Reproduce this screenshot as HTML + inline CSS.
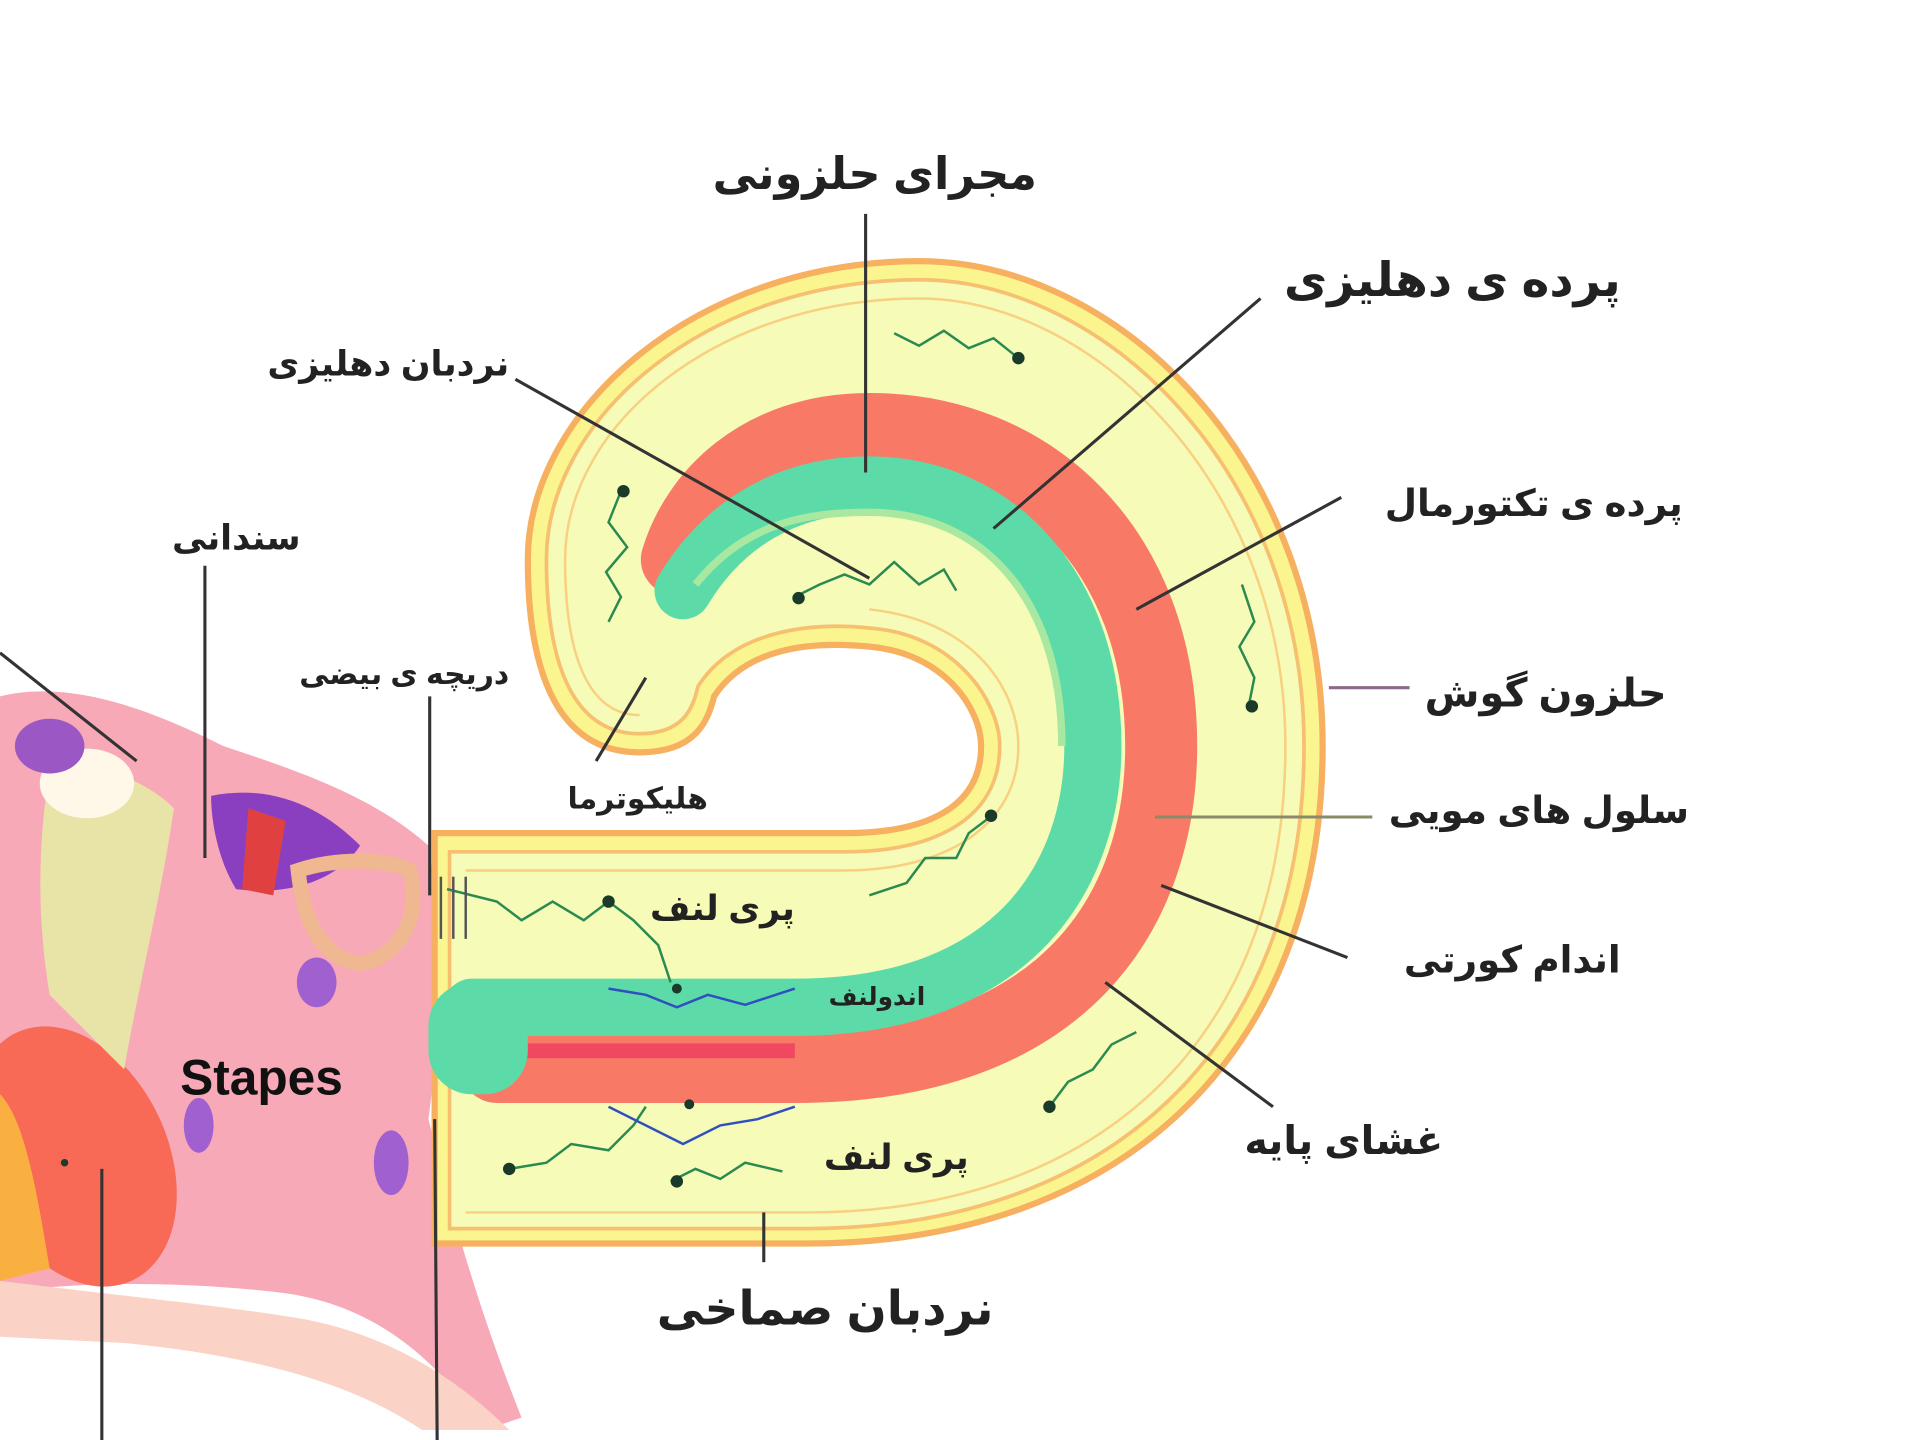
<!DOCTYPE html>
<html><head><meta charset="utf-8"><style>
html,body{margin:0;padding:0;background:#fff}
svg{display:block}
text{font-family:"Liberation Sans","DejaVu Sans",sans-serif;fill:#222;font-weight:bold}
</style></head><body>
<svg width="1920" height="1440" viewBox="0 0 1546 1158" preserveAspectRatio="none" xmlns="http://www.w3.org/2000/svg">
<rect width="1546" height="1158" fill="#fff"/>
<!-- left anatomy -->
<path d="M0,560 C60,545 130,575 180,600 C240,620 300,640 345,680 L360,780 L345,900 C360,960 380,1040 420,1140 L390,1150 C350,1090 300,1050 230,1040 C150,1030 60,1030 0,1040 Z" fill="#f7a0b0" opacity="0.9"/>
<path d="M0,1030 C80,1040 180,1050 240,1060 C300,1070 360,1100 410,1150 L340,1150 C280,1110 200,1090 100,1080 L0,1075 Z" fill="#fbd2c6"/>
<ellipse cx="60" cy="930" rx="75" ry="110" fill="#f86a55" transform="rotate(-25 60 930)"/>
<path d="M0,880 C20,900 30,960 40,1020 L0,1030 Z" fill="#f9b040"/>
<path d="M40,620 C80,610 120,630 140,650 C130,720 110,800 100,860 C80,840 60,820 40,800 C30,740 30,680 40,620 Z" fill="#e8e4a8"/>
<ellipse cx="70" cy="630" rx="38" ry="28" fill="#fff7e8"/>
<ellipse cx="40" cy="600" rx="28" ry="22" fill="#9b57c4"/>
<path d="M170,640 C220,630 260,650 290,680 C270,710 230,720 190,715 C175,690 170,660 170,640 Z" fill="#8a3fc0"/>
<path d="M200,650 L230,660 L220,720 L195,715 Z" fill="#e04040"/>
<path d="M240,700 C270,690 310,690 330,700 C340,740 320,770 290,775 C260,770 245,745 240,700 Z" fill="none" stroke="#f0b890" stroke-width="12"/>
<ellipse cx="160" cy="905" rx="12" ry="22" fill="#a060d0"/>
<ellipse cx="315" cy="935" rx="14" ry="26" fill="#a060d0"/>
<ellipse cx="255" cy="790" rx="16" ry="20" fill="#a060d0"/>
<text x="145" y="880" font-size="40" style="fill:#111">Stapes</text>
<!-- cochlea outer -->
<path d="M350,1000 L650,1000 C900,1000 1065,850 1065,600 C1065,370 900,210 740,210 C560,210 425,330 425,450 C425,560 460,605 515,605 C560,605 570,580 575,560 C600,522 650,515 700,520 C760,525 790,570 790,600 C790,650 745,670 680,670 L350,670 Z" fill="#fbf590" stroke="#f6b060" stroke-width="5"/>
<path d="M362,988 L650,988 C890,988 1050,845 1050,600 C1050,380 890,225 740,225 C570,225 440,335 440,450 C440,550 470,590 515,590 C550,590 558,570 562,552 C590,508 650,500 700,505 C770,510 805,565 805,600 C805,660 750,685 680,685 L362,685 Z" fill="#f7fbb8" stroke="#f6c070" stroke-width="3"/>
<path d="M375,975 L650,975 C880,975 1035,840 1035,600 C1035,390 880,240 740,240 C580,240 455,340 455,450 C455,540 480,575 515,575" fill="none" stroke="#f8d080" stroke-width="2"/>
<path d="M375,700 L680,700 C760,700 820,665 820,600 C820,560 790,500 700,490" fill="none" stroke="#f8d080" stroke-width="2"/>
<!-- duct -->
<path d="M400,858 L640,858 C860,858 935,730 935,600 C935,440 830,345 700,345 C610,345 560,400 545,450" fill="none" stroke="#f87a66" stroke-width="58" stroke-linecap="round"/>
<path d="M400,845 L640,845" stroke="#f04860" stroke-width="12"/>
<rect x="345" y="790" width="80" height="90" rx="35" fill="#5cdba8"/>
<path d="M380,810 L640,810 C820,810 880,700 880,600 C880,470 800,390 700,390 C630,390 580,425 550,475" fill="none" stroke="#5cdba8" stroke-width="46" stroke-linecap="round"/>
<path d="M560,470 C600,420 650,412 700,412 C790,412 855,480 855,600" fill="none" stroke="#a8e8a0" stroke-width="6"/>
<!-- wavy arrows -->
<g fill="none" stroke="#2a8a50" stroke-width="2">
<polyline points="720,268 740,278 760,266 780,280 800,272 820,288"/>
<polyline points="500,395 490,420 505,440 488,460 500,480 490,500"/>
<polyline points="640,480 660,470 680,462 700,470 720,452 740,470 760,458 770,475"/>
<polyline points="1000,470 1010,500 998,520 1010,545 1005,570"/>
<polyline points="700,720 730,710 745,690 770,690 780,670 800,655"/>
<polyline points="360,715 400,725 420,740 445,725 470,740 490,725 510,740 530,760 540,790"/>
<polyline points="410,940 440,935 460,920 490,925 510,905 520,890"/>
<polyline points="845,890 860,870 880,860 895,840 915,830"/>
<polyline points="540,950 560,940 580,948 600,935 630,942"/>
</g>
<g fill="none" stroke="#3050c0" stroke-width="2">
<polyline points="490,795 520,800 545,810 570,800 600,808 640,795"/>
<polyline points="490,890 520,905 550,920 580,905 610,900 640,890"/>
</g>
<g stroke="#555" stroke-width="2"><line x1="355" y1="705" x2="355" y2="755"/><line x1="365" y1="705" x2="365" y2="755"/><line x1="375" y1="705" x2="375" y2="755"/></g>
<g fill="#1a3a2a"><circle cx="820" cy="288" r="5"/><circle cx="502" cy="395" r="5"/><circle cx="643" cy="481" r="5"/><circle cx="1008" cy="568" r="5"/><circle cx="798" cy="656" r="5"/><circle cx="490" cy="725" r="5"/><circle cx="410" cy="940" r="5"/><circle cx="845" cy="890" r="5"/><circle cx="545" cy="950" r="5"/><circle cx="545" cy="795" r="4"/><circle cx="555" cy="888" r="4"/><circle cx="52" cy="935" r="3"/></g>
<!-- leader lines -->
<g stroke="#333" stroke-width="2.5" fill="none">
<line x1="697" y1="172" x2="697" y2="380"/>
<line x1="1015" y1="240" x2="800" y2="425"/>
<line x1="415" y1="305" x2="700" y2="465"/>
<line x1="1080" y1="400" x2="915" y2="490"/>
<line x1="1070" y1="553" x2="1135" y2="553" stroke="#8a6a8a"/>
<line x1="930" y1="657" x2="1105" y2="657" stroke="#8a8a6a"/>
<line x1="935" y1="712" x2="1085" y2="770"/>
<line x1="890" y1="790" x2="1025" y2="890"/>
<line x1="615" y1="975" x2="615" y2="1015"/>
<line x1="165" y1="455" x2="165" y2="690"/>
<line x1="346" y1="560" x2="346" y2="720"/>
<line x1="350" y1="900" x2="352" y2="1158"/>
<line x1="82" y1="940" x2="82" y2="1158"/>
<line x1="0" y1="525" x2="110" y2="612"/>
<line x1="480" y1="612" x2="520" y2="545"/>
</g>
<!-- labels -->
<g direction="rtl" style="font-family:'Liberation Sans','DejaVu Sans','Noto Sans CJK SC',sans-serif">
<text x="835" y="152" font-size="36" text-anchor="start">مجرای حلزونی</text>
<text x="1305" y="238" font-size="38" text-anchor="start">پرده ی دهلیزی</text>
<text x="410" y="302" font-size="28" text-anchor="start">نردبان دهلیزی</text>
<text x="1355" y="415" font-size="30" text-anchor="start">پرده ی تکتورمال</text>
<text x="1342" y="568" font-size="32" text-anchor="start">حلزون گوش</text>
<text x="1360" y="662" font-size="30" text-anchor="start">سلول های مویی</text>
<text x="1305" y="782" font-size="30" text-anchor="start">اندام کورتی</text>
<text x="1162" y="928" font-size="32" text-anchor="start">غشای پایه</text>
<text x="800" y="1065" font-size="38" text-anchor="start">نردبان صماخی</text>
<text x="242" y="442" font-size="28" text-anchor="start">سندانی</text>
<text x="410" y="550" font-size="24" text-anchor="start">دریچه ی بیضی</text>
<text x="570" y="650" font-size="24" text-anchor="start">هلیکوترما</text>
<text x="640" y="740" font-size="28" text-anchor="start">پری لنف</text>
<text x="780" y="940" font-size="28" text-anchor="start">پری لنف</text>
<text x="745" y="808" font-size="20" text-anchor="start">اندولنف</text>
</g>
</svg>
</body></html>
